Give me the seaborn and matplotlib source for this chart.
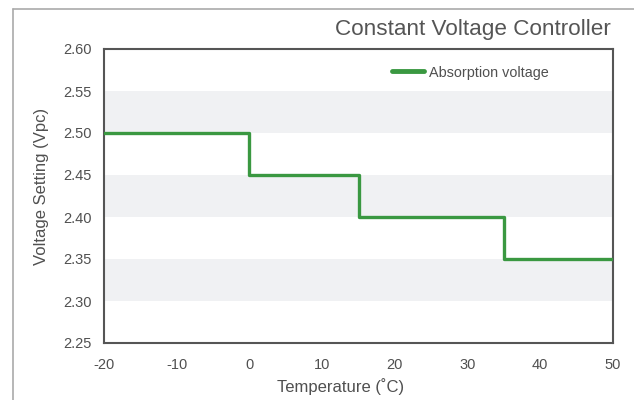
import matplotlib
matplotlib.use("Agg")
import matplotlib.pyplot as plt
import seaborn as sns
import pandas as pd
from matplotlib.lines import Line2D

temps = [-20, 0, 15, 35, 50]
volts = [2.50, 2.45, 2.40, 2.35, 2.35]
series_name = "Absorption voltage"
xticks = [-20, -10, 0, 10, 20, 30, 40, 50]
yticks = [2.25, 2.30, 2.35, 2.40, 2.45, 2.50, 2.55, 2.60]
bands = [(2.50, 2.55), (2.40, 2.45), (2.30, 2.35)]

sns.set_theme(style="white")
plt.rcParams['font.family'] = ['Liberation Sans', 'DejaVu Sans']
txt = "#505050"
spine = "#555555"

fig = plt.figure(figsize=(6.34, 4.0), dpi=100)
ax = fig.add_axes([104/634, 1 - 343/400, (613-104)/634, (343-49)/400])

for lo, hi in bands:
    ax.axhspan(lo, hi, color="#f0f1f3", lw=0, zorder=0)

df = pd.DataFrame({"Temperature": temps, "Voltage": volts, "series": series_name})
sns.lineplot(data=df, x="Temperature", y="Voltage", hue="series", palette=["#3a9841"],
             drawstyle="steps-post", linewidth=2.4, ax=ax, zorder=3)

ax.set_xlim(-20, 50)
ax.set_ylim(2.25, 2.60)
ax.set_xticks(xticks)
ax.set_yticks(yticks)
ax.set_xticklabels([str(t) for t in xticks])
ax.set_yticklabels([f"{v:.2f}" for v in yticks])
ax.tick_params(axis="x", direction="out", length=5, width=1.5, color=spine,
               labelsize=10.5, labelcolor=txt, pad=6)
ax.tick_params(axis="y", length=0, labelsize=10.5, labelcolor=txt, pad=9)
for s in ax.spines.values():
    s.set_color(spine)
    s.set_linewidth(1.5)
    s.set_visible(True)

ax.set_xlabel("Temperature (˚C)", fontsize=12, color=txt)
ax.set_ylabel("Voltage Setting (Vpc)", fontsize=12, color=txt)
ax.xaxis.set_label_coords(0.464, -0.12)
ax.yaxis.set_label_coords(-0.108, 0.531)

leg = ax.legend(loc="center left", bbox_to_anchor=(0.54, 0.92), frameon=False,
                fontsize=10.4, handlelength=2.2, handletextpad=0.4, labelcolor=txt)
for h in leg.get_lines():
    h.set_linewidth(3.5)

fig.text(611/634, 1 - 30/400, "Constant Voltage Controller", ha="right", va="center",
         fontsize=16.2, color="#555555")

fig.add_artist(Line2D([13/634, 1.0], [1 - 9/400, 1 - 9/400], transform=fig.transFigure,
                      color="#aaaaaa", lw=1.2))
fig.add_artist(Line2D([13/634, 13/634], [0, 1 - 9/400], transform=fig.transFigure,
                      color="#aaaaaa", lw=1.2))

fig.savefig("out.png", dpi=100)
